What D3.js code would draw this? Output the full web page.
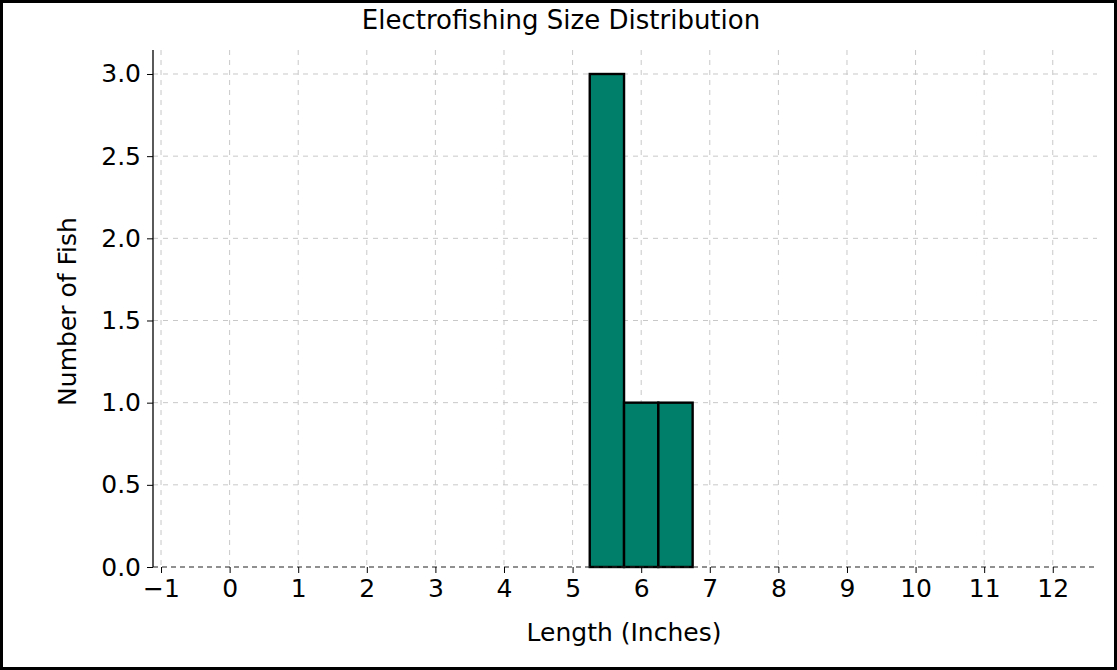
<!DOCTYPE html>
<html><head><meta charset="utf-8">
<script src="https://cdn.jsdelivr.net/npm/d3@7"></script>
<style>body{margin:0;background:#fff}svg{display:block;font-family:"DejaVu Sans",sans-serif}</style>
</head><body>
<svg id="c" width="1117" height="670"></svg>
<script>
const binStarts = [5.25, 5.75, 6.25];
const binEnds = [5.75, 6.25, 6.75];
const counts = [3, 1, 1];
const xTicks = [-1,0,1,2,3,4,5,6,7,8,9,10,11,12];
const yTicks = [0,0.5,1.0,1.5,2.0,2.5,3.0];
const title = "Electrofishing Size Distribution";
const xLabel = "Length (Inches)";
const yLabel = "Number of Fish";

const FS = 25;
const svg = d3.select("#c");
const W=1117,H=670;
const L=153,R=1097,T=50,B=567;
const x = d3.scaleLinear().domain([-1.117,12.645]).range([L,R]);
const y = d3.scaleLinear().domain([0,3.146]).range([B,T]);

svg.append("rect").attr("x",1.5).attr("y",1.5).attr("width",W-3).attr("height",H-3)
  .attr("fill","#fff").attr("stroke","#000").attr("stroke-width",3);

// grid
const g = svg.append("g");
g.selectAll(".vg").data(xTicks).join("line")
  .attr("x1",d=>x(d)).attr("x2",d=>x(d)).attr("y1",T).attr("y2",B)
  .attr("stroke","#c8c8c8").attr("stroke-dasharray","5,5").attr("stroke-width",1);
g.selectAll(".hg").data(yTicks.filter(d=>d>0)).join("line")
  .attr("x1",L).attr("x2",R).attr("y1",d=>y(d)).attr("y2",d=>y(d))
  .attr("stroke","#c8c8c8").attr("stroke-dasharray","5,5").attr("stroke-width",1);

// bars
svg.selectAll(".bar").data(counts).join("rect")
  .attr("x",(d,i)=>x(binStarts[i])).attr("width",(d,i)=>x(binEnds[i])-x(binStarts[i]))
  .attr("y",d=>y(d)).attr("height",d=>y(0)-y(d))
  .attr("fill","#00806a").attr("stroke","#000").attr("stroke-width",2.4);

// baseline dashed
svg.append("line").attr("x1",L).attr("x2",R).attr("y1",y(0)).attr("y2",y(0))
  .attr("stroke","#222").attr("stroke-dasharray","5,4").attr("stroke-width",1.2);

// axes
const xa = svg.append("g").attr("transform",`translate(0,${B})`)
  .call(d3.axisBottom(x).tickValues(xTicks).tickSize(6).tickPadding(6).tickFormat(d=>d<0?"\u2212"+Math.abs(d):d));
xa.select(".domain").remove();
const ya = svg.append("g").attr("transform",`translate(${L},0)`)
  .call(d3.axisLeft(y).tickValues(yTicks).tickSize(6).tickPadding(6).tickFormat(d3.format(".1f")));
ya.select(".domain").attr("d",`M0,${T}V${B}`).attr("stroke","#000").attr("stroke-width",1.3);
svg.selectAll(".tick text").attr("font-size",FS).attr("fill","#000").attr("font-family","DejaVu Sans");
svg.selectAll(".tick line").attr("stroke","#000");

svg.append("text").attr("x",561).attr("y",29).attr("text-anchor","middle")
  .attr("font-size",26).text(title);
svg.append("text").attr("x",624).attr("y",641).attr("text-anchor","middle")
  .attr("font-size",FS).text(xLabel);
svg.append("text").attr("transform",`translate(76,${(T+B)/2+3}) rotate(-90)`).attr("text-anchor","middle")
  .attr("font-size",FS).text(yLabel);
</script>
</body></html>
